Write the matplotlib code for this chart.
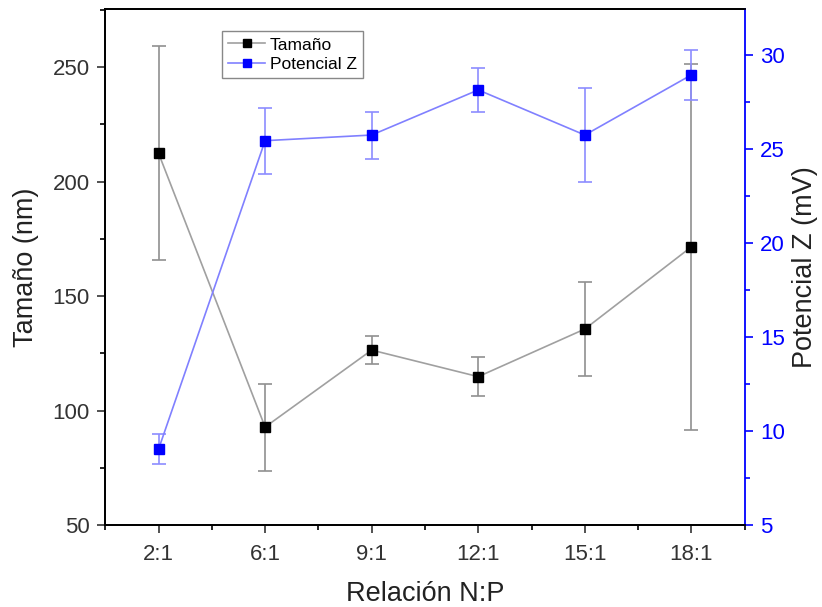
import matplotlib
matplotlib.use("Agg")
import matplotlib.pyplot as plt
from matplotlib.ticker import MultipleLocator

plt.rcParams['font.family'] = ['Liberation Sans', 'DejaVu Sans']

# datos
relacion = ["2:1", "6:1", "9:1", "12:1", "15:1", "18:1"]
tamano = [212.4, 92.8, 126.4, 114.8, 135.6, 171.5]
tamano_err = [46.6, 19.0, 6.0, 8.5, 20.6, 80.0]
potencial = [9.03, 25.45, 25.75, 28.15, 25.75, 28.95]
potencial_err = [0.79, 1.75, 1.25, 1.15, 2.48, 1.33]

x = list(range(1, len(relacion) + 1))

fig = plt.figure(figsize=(8.22, 6.07), dpi=100)
ax = fig.add_axes([0.128, 0.135, 0.778, 0.85])
ax2 = ax.twinx()

# Tamaño
ax.errorbar(x, tamano, yerr=tamano_err, fmt='none', ecolor='#909090',
            elinewidth=1.2, capsize=5, capthick=1.2)
l1, = ax.plot(x, tamano, color='#a0a0a0', lw=1.2, marker='s', markersize=7.5,
              markerfacecolor='black', markeredgecolor='black', label='Tamaño')

# Potencial Z
ax2.errorbar(x, potencial, yerr=potencial_err, fmt='none', ecolor='#8c8cff',
             elinewidth=1.2, capsize=5, capthick=1.2)
l2, = ax2.plot(x, potencial, color='#8080ff', lw=1.2, marker='s', markersize=7.5,
               markerfacecolor='blue', markeredgecolor='blue', label='Potencial Z')

ax.set_xlim(0.5, 6.5)
ax.set_ylim(50, 275.3)
ax2.set_ylim(5, 32.45)

ax.set_xticks(x)
ax.set_xticklabels(relacion)
ax.xaxis.set_minor_locator(MultipleLocator(0.5))
ax.yaxis.set_major_locator(MultipleLocator(50))
ax.yaxis.set_minor_locator(MultipleLocator(25))
ax2.yaxis.set_major_locator(MultipleLocator(5))
ax2.yaxis.set_minor_locator(MultipleLocator(2.5))

ax.tick_params(axis='both', which='major', direction='out', length=6, width=1.2,
               labelsize=16, colors='#333333', top=False, pad=5)
ax.tick_params(axis='x', which='major', pad=8)
ax.tick_params(axis='both', which='minor', direction='out', length=3.5, width=1.2, top=False)
ax2.tick_params(axis='y', which='major', direction='out', length=6, width=1.2,
                labelsize=16, colors='blue', pad=5)
ax2.tick_params(axis='y', which='minor', direction='out', length=3.5, width=1.2, colors='blue')

for s in ['left', 'bottom', 'top']:
    ax.spines[s].set_linewidth(1.3)
    ax2.spines[s].set_linewidth(1.3)
ax2.spines['right'].set_color('blue')
ax2.spines['right'].set_linewidth(1.3)
ax.spines['right'].set_visible(False)

ax.set_xlabel("Relación N:P", fontsize=19.5, color='#222222', labelpad=11)
ax.set_ylabel("Tamaño (nm)", fontsize=19.5, color='#222222', labelpad=10)
ax2.set_ylabel("Potencial Z (mV)", fontsize=19.5, color='#222222', labelpad=5)

leg = ax2.legend(handles=[l1, l2], loc='upper left', bbox_to_anchor=(0.183, 0.957),
                 borderaxespad=0, fontsize=12.5, fancybox=False, edgecolor='#888888',
                 framealpha=1, handlelength=2.1, borderpad=0.35, labelspacing=0.25,
                 handletextpad=0.3, markerscale=0.8)
leg.get_frame().set_linewidth(1.0)

fig.savefig("out.png", dpi=100)
